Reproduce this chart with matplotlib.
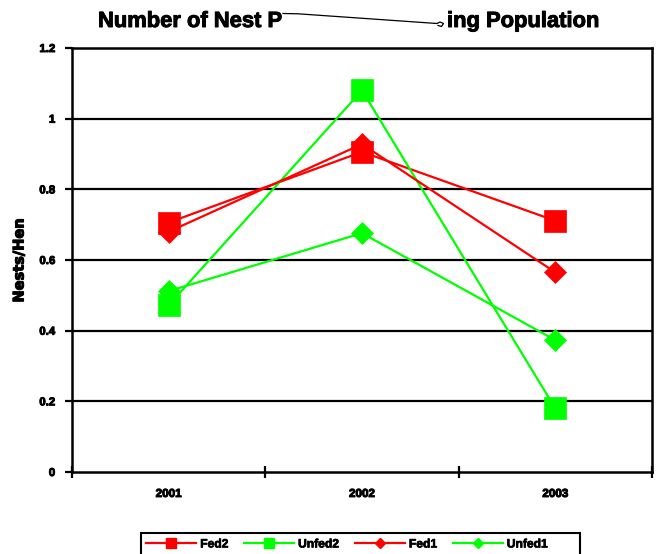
import matplotlib
matplotlib.use("Agg")
import matplotlib.pyplot as plt
import matplotlib.patheffects as pe
from matplotlib.lines import Line2D
from matplotlib.patches import Rectangle
import numpy as np

plt.rcParams['font.family'] = ['Liberation Sans', 'DejaVu Sans']
plt.rcParams['font.weight'] = 'bold'

# ---- data ----
years = ["2001", "2002", "2003"]
fed2 = [0.706, 0.906, 0.711]
unfed2 = [0.472, 1.080, 0.180]
fed1 = [0.680, 0.928, 0.565]
unfed1 = [0.512, 0.676, 0.373]
series_names = ["Fed2", "Unfed2", "Fed1", "Unfed1"]
y_ticks = [0, 0.2, 0.4, 0.6, 0.8, 1, 1.2]
y_tick_labels = ["0", "0.2", "0.4", "0.6", "0.8", "1", "1.2"]

W, H = 658, 554
fig = plt.figure(figsize=(W / 100, H / 100), dpi=100)

def fx(px):
    return px / W

def fy(py):
    return 1 - py / H

heavy = [pe.withStroke(linewidth=0.7, foreground="black")]

left, right, top, bottom = 72, 652, 48, 472
ax = fig.add_axes([fx(left), fy(bottom), fx(right - left), (bottom - top) / H])

x = np.arange(len(years))
red = "#FF0000"
green = "#00FF00"
styles = [
    (fed2, red, "s", 15.5),
    (unfed2, green, "s", 15.5),
    (fed1, red, "D", 11.0),
    (unfed1, green, "D", 11.0),
]
handles = []
for (vals, col, mk, ms), name in zip(styles, series_names):
    ax.plot(x, vals, color=col, lw=1.6, marker=mk, ms=ms,
            markerfacecolor=col, markeredgecolor=col, markeredgewidth=0.5,
            zorder=3)
    handles.append(Line2D([], [], color=col, lw=1.6, marker=mk,
                          ms=6.5 if mk == "s" else 4.8,
                          markerfacecolor=col, markeredgecolor=col,
                          label=name))

ax.set_xlim(-0.5, len(years) - 0.5)
ax.set_ylim(0, 1.2)

# horizontal gridlines
for yv in y_ticks[1:-1]:
    ax.axhline(yv, color="black", lw=1.6, zorder=1)

for sp in ax.spines.values():
    sp.set_linewidth(1.8)
    sp.set_color("black")

ax.set_yticks(y_ticks)
ax.set_yticklabels(y_tick_labels, fontsize=8.2, fontweight="bold")
ax.tick_params(axis="y", direction="out", length=5, width=1.6, pad=7)

# year labels at category centers, tick marks at category boundaries
ax.set_xticks(x)
ax.set_xticklabels(years, fontsize=8.4, fontweight="bold")
ax.tick_params(axis="x", which="major", length=0, pad=11.5)
ax.set_xticks(np.arange(-0.5, len(years), 1.0), minor=True)
ax.tick_params(axis="x", which="minor", direction="inout", length=8, width=1.6)

for lbl in ax.get_xticklabels() + ax.get_yticklabels():
    lbl.set_path_effects(heavy)

fig.text(fx(19), fy(260), "Nests/Hen", rotation=90, ha="center", va="center",
         fontsize=10.5, fontweight="bold", color="black",
         family=["DejaVu Sans"],
         path_effects=[pe.withStroke(linewidth=0.8, foreground="black")])

# title with a stray connector stroke between its two halves
fig.text(fx(98), fy(21.5), "Number of Nest P", ha="left", va="center",
         fontsize=15.8, fontweight="bold", path_effects=heavy)
fig.text(fx(447), fy(21.5), "ing Population", ha="left", va="center",
         fontsize=15.8, fontweight="bold", path_effects=heavy)
stroke_px = [(283, 13.5), (298, 13.8), (437, 23.5), (440, 22.0),
             (443.5, 23.5), (441.5, 26.5), (438, 25.5)]
fig.add_artist(Line2D([fx(p[0]) for p in stroke_px],
                      [fy(p[1]) for p in stroke_px],
                      color="black", lw=0.9, transform=fig.transFigure))

# legend entries, with a wider box drawn around them
leg = fig.legend(handles=handles, loc="upper left", ncol=4,
                 bbox_to_anchor=(fx(141), fy(533)),
                 fontsize=8.7, frameon=False,
                 handlelength=4.1, handletextpad=0.35, columnspacing=1.3,
                 borderpad=0.45, borderaxespad=0)
for t in leg.get_texts():
    t.set_fontweight("bold")
    t.set_path_effects([pe.withStroke(linewidth=0.5, foreground="black")])
fig.add_artist(Rectangle((fx(141), fy(570)), fx(580 - 141), (570 - 533) / H,
                         transform=fig.transFigure, fill=False,
                         edgecolor="black", linewidth=1.5))

fig.savefig("out.png", dpi=100)
